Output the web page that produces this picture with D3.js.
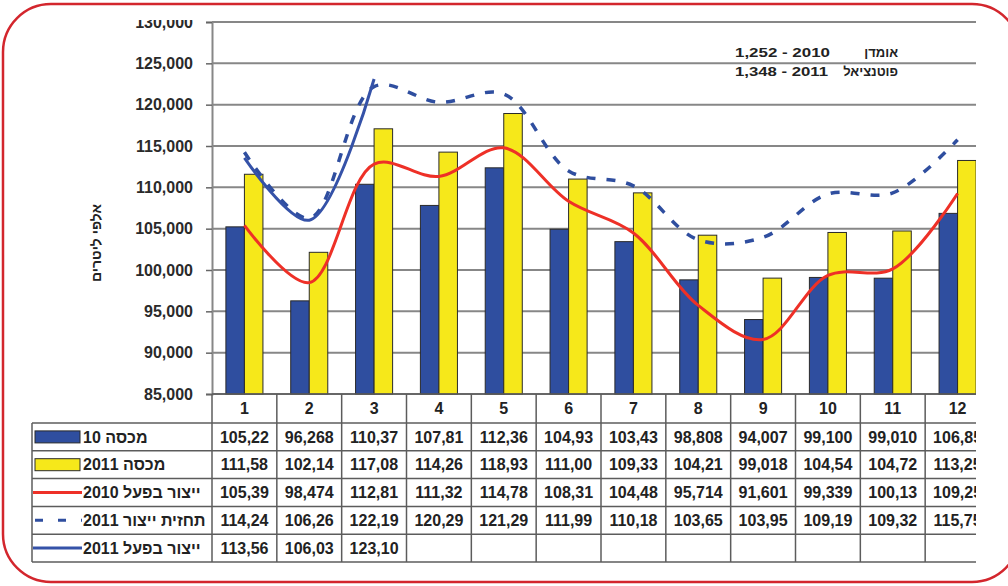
<!DOCTYPE html>
<html lang="he">
<head>
  <meta charset="UTF-8">
  <title>ייצור חלב 2010-2011</title>
  <script src="https://d3js.org/d3.v7.min.js"></script>
  <style>
    body { margin: 0; background: #fff; }
    svg { display: block; font-family: Arial, "Liberation Sans", sans-serif; font-weight: bold; }
    .tick text { fill: #2a2a2a; font-size: 16px; font-weight: bold; }
    .cell { fill: #222; font-size: 16px; }
  </style>
</head>
<body>
  <svg id="chart" width="1008" height="586"></svg>
  <script>
    // data
    const months = ['1', '2', '3', '4', '5', '6', '7', '8', '9', '10', '11', '12'];
    const quota2010 = [105220, 96268, 110370, 107810, 112360, 104930, 103430, 98808, 94007, 99100, 99010, 106850];
    const quota2011 = [111580, 102140, 117080, 114260, 118930, 111000, 109330, 104210, 99018, 104540, 104720, 113250];
    const actual2010 = [105390, 98474, 112810, 111320, 114780, 108310, 104480, 95714, 91601, 99339, 100130, 109250];
    const forecast2011 = [114240, 106260, 122190, 120290, 121290, 111990, 110180, 103650, 103950, 109190, 109320, 115750];
    const actual2011 = [113560, 106030, 123100, null, null, null, null, null, null, null, null, null];
    const yTicks = [85000, 90000, 95000, 100000, 105000, 110000, 115000, 120000, 125000, 130000];

    const BLUE = '#2f4e9f', YELLOW = '#f6e81a', RED = '#ee3027', LINE_BLUE = '#3552a8';

    const series = [
      { key: 'q10', label: 'מכסה 10', values: quota2010, type: 'bar', color: BLUE },
      { key: 'q11', label: 'מכסה 2011', values: quota2011, type: 'bar', color: YELLOW },
      { key: 'a10', label: 'ייצור בפעל 2010', values: actual2010, type: 'line', color: RED },
      { key: 'f11', label: 'תחזית ייצור 2011', values: forecast2011, type: 'dash', color: BLUE },
      { key: 'a11', label: 'ייצור בפעל 2011', values: actual2011, type: 'line', color: LINE_BLUE }
    ];

    const svg = d3.select('#chart');
    const plotLeft = 212, plotRight = 990, plotTop = 22, plotBottom = 394, tableLeft = 32;

    // rounded red frame
    svg.append('rect')
      .attr('x', 3).attr('y', 4).attr('width', 1017).attr('height', 578).attr('rx', 48)
      .attr('fill', 'none').attr('stroke', '#d3262d').attr('stroke-width', 2.5);

    // the chart picture is cropped at the top and on the right
    svg.append('clipPath').attr('id', 'crop')
      .append('rect').attr('x', 0).attr('y', 20).attr('width', 976).attr('height', 566);

    const g = svg.append('g').attr('clip-path', 'url(#crop)');

    const x = d3.scaleBand().domain(months).range([plotLeft, plotRight]);
    const xSub = d3.scaleBand().domain(['q10', 'q11']).range([0, x.bandwidth()]).paddingOuter(0.75);
    const y = d3.scaleLinear().domain([85000, 130000]).range([plotBottom, plotTop]);

    // gridlines
    g.append('g').selectAll('line').data(yTicks).join('line')
      .attr('x1', plotLeft).attr('x2', plotRight)
      .attr('y1', d => y(d)).attr('y2', d => y(d))
      .attr('stroke', '#878787').attr('stroke-width', 2);

    const yAxis = g.append('g')
      .attr('transform', `translate(${plotLeft},0)`)
      .call(d3.axisLeft(y).tickValues(yTicks).tickSize(6).tickPadding(13).tickFormat(d3.format(',')));
    yAxis.select('.domain').attr('stroke', '#878787').attr('stroke-width', 2);
    yAxis.selectAll('.tick line').attr('stroke', '#666').attr('stroke-width', 1.5);

    // bars
    series.filter(s => s.type === 'bar').forEach(s => {
      g.append('g').selectAll('rect').data(s.values).join('rect')
        .attr('x', (d, i) => x(months[i]) + xSub(s.key))
        .attr('y', d => y(d))
        .attr('width', xSub.bandwidth())
        .attr('height', d => y(85000) - y(d))
        .attr('fill', s.color)
        .attr('stroke', '#2a2a2a').attr('stroke-width', 1);
    });

    // smoothed lines
    const line = d3.line()
      .defined(d => d != null)
      .x((d, i) => x(months[i]) + x.bandwidth() / 2)
      .y(d => y(d))
      .curve(d3.curveCatmullRom.alpha(0.5));

    const drawOrder = ['a10', 'f11', 'a11'];
    drawOrder.forEach(k => {
      const s = series.find(d => d.key === k);
      g.append('path')
        .attr('d', line(s.values))
        .attr('fill', 'none')
        .attr('stroke', s.color)
        .attr('stroke-width', s.type === 'dash' ? 3.5 : 3)
        .attr('stroke-dasharray', s.type === 'dash' ? '9,11' : null);
    });

    // data table
    const rows = d3.scaleBand().domain(series.map(s => s.key)).range([423, 562]);
    const fmt = v => v == null ? '' : d3.format(',')(v).slice(0, 6);

    g.append('g').selectAll('text').data(months).join('text')
      .attr('class', 'cell')
      .attr('x', d => x(d) + x.bandwidth() / 2)
      .attr('y', (plotBottom + 423) / 2)
      .attr('dy', '0.36em')
      .attr('text-anchor', 'middle')
      .text(d => d);

    series.forEach(s => {
      const rowY = rows(s.key) + rows.bandwidth() / 2;
      g.append('g').selectAll('text').data(s.values).join('text')
        .attr('class', 'cell')
        .attr('x', (d, i) => x(months[i]) + x.bandwidth() / 2)
        .attr('y', rowY)
        .attr('dy', '0.36em')
        .attr('text-anchor', 'middle')
        .text(d => fmt(d));

      // legend key
      if (s.type === 'bar') {
        g.append('rect')
          .attr('x', 35).attr('y', rowY - 6).attr('width', 45).attr('height', 12)
          .attr('fill', s.color).attr('stroke', '#2a2a2a').attr('stroke-width', 1);
      } else {
        g.append('line')
          .attr('x1', s.type === 'dash' ? 35 : 33).attr('x2', 82)
          .attr('y1', rowY).attr('y2', rowY)
          .attr('stroke', s.color).attr('stroke-width', 3)
          .attr('stroke-dasharray', s.type === 'dash' ? '8,15' : null);
      }
      g.append('text')
        .attr('class', 'cell')
        .attr('x', 83).attr('y', rowY).attr('dy', '0.36em')
        .text(s.label);
    });

    // table grid
    const tg = g.append('g').attr('stroke', '#5c5c5c').attr('stroke-width', 1.5);
    tg.selectAll('.h').data(rows.domain()).join('line')
      .attr('x1', tableLeft).attr('x2', plotRight)
      .attr('y1', d => rows(d)).attr('y2', d => rows(d));
    tg.append('line').attr('x1', tableLeft).attr('x2', plotRight).attr('y1', 562).attr('y2', 562);
    tg.append('line').attr('x1', plotLeft).attr('x2', plotRight).attr('y1', plotBottom).attr('y2', plotBottom);
    tg.append('line').attr('x1', tableLeft).attr('x2', tableLeft).attr('y1', 423).attr('y2', 562);
    tg.selectAll('.v').data(months).join('line')
      .attr('x1', d => x(d)).attr('x2', d => x(d))
      .attr('y1', plotBottom).attr('y2', 562);

    // axis title
    g.append('text')
      .attr('transform', 'translate(96,243) rotate(-90)')
      .attr('text-anchor', 'middle')
      .attr('dy', '0.36em')
      .attr('fill', '#222')
      .style('font-size', '14px')
      .text('אלפי ליטרים');

    // note
    const note = g.append('g').attr('fill', '#222').style('font-size', '13px');
    note.append('text').attr('x', 735).attr('y', 57)
      .attr('textLength', 95).attr('lengthAdjust', 'spacingAndGlyphs').text('1,252  - 2010');
    note.append('text').attr('x', 898).attr('y', 57).attr('text-anchor', 'end').text('אומדן');
    note.append('text').attr('x', 735).attr('y', 76)
      .attr('textLength', 93).attr('lengthAdjust', 'spacingAndGlyphs').text('1,348 - 2011');
    note.append('text').attr('x', 898).attr('y', 76).attr('text-anchor', 'end').text('פוטנציאל');
  </script>
</body>
</html>
